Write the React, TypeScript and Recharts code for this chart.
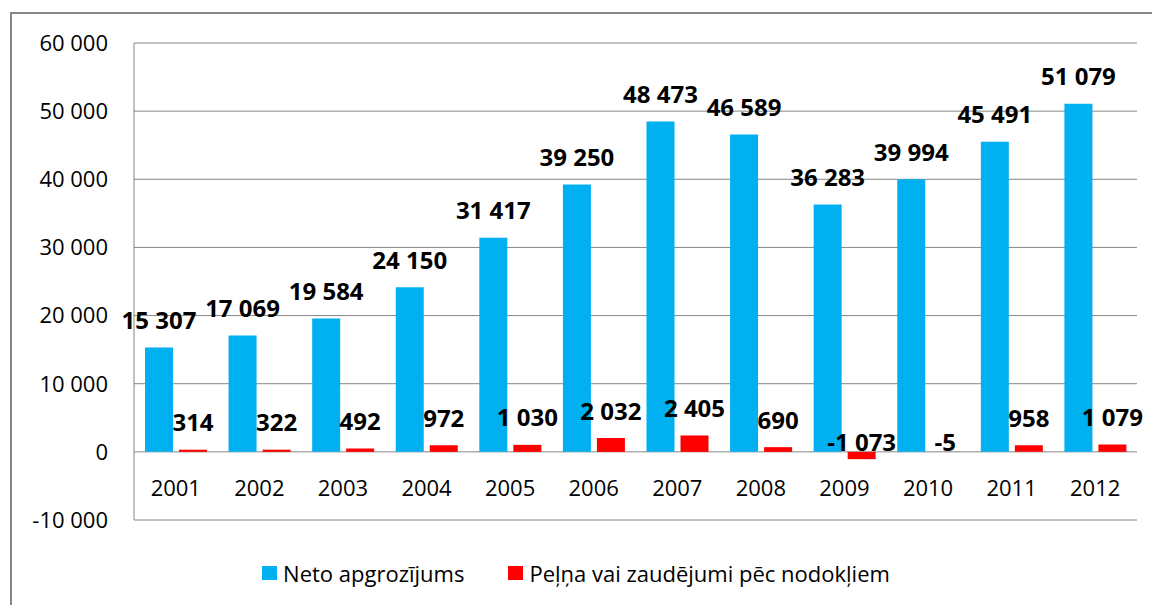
import {
  BarChart,
  Bar,
  XAxis,
  YAxis,
  CartesianGrid,
  Legend,
  LabelList,
} from "recharts";

const years = ["2001", "2002", "2003", "2004", "2005", "2006", "2007", "2008", "2009", "2010", "2011", "2012"];
const netoApgrozijums = [15307, 17069, 19584, 24150, 31417, 39250, 48473, 46589, 36283, 39994, 45491, 51079];
const pelna = [314, 322, 492, 972, 1030, 2032, 2405, 690, -1073, -5, 958, 1079];
const yTicks = [-10000, 0, 10000, 20000, 30000, 40000, 50000, 60000];

const seriesNames = {
  neto: "Neto apgrozījums",
  pelna: "Peļņa vai zaudējumi pēc nodokļiem",
};

const data = years.map((year, i) => ({
  year,
  neto: netoApgrozijums[i],
  pelna: pelna[i],
}));

const BLUE = "#00B0F0";
const RED = "#FF0000";
const GRID = "#868686";
const FONT = "'Open Sans', sans-serif";

const fmt = (n: number) => {
  const s = Math.abs(n).toString().replace(/\B(?=(\d{3})+(?!\d))/g, " ");
  return n < 0 ? "-" + s : s;
};

function ValueLabel(props: any) {
  const { x, y, width, height, value } = props;
  const top = Math.min(y, y + height);
  const cy = value < 0 ? top - 10 : top - 28;
  return (
    <text
      x={x + width / 2}
      y={cy}
      textAnchor="middle"
      dominantBaseline="central"
      fontFamily={FONT}
      fontWeight="bold"
      fontSize={24}
      fill="#000"
    >
      {fmt(value)}
    </text>
  );
}

function YearTick(props: any) {
  const { x, y, payload } = props;
  return (
    <text
      x={x}
      y={y - 33}
      textAnchor="middle"
      dominantBaseline="central"
      fontFamily={FONT}
      fontSize={22}
      fill="#000"
    >
      {payload.value}
    </text>
  );
}

function LegendBox() {
  const item = (color: string, label: string) => (
    <div style={{ display: "flex", alignItems: "center" }}>
      <div style={{ width: 15, height: 14, background: color, marginRight: 6 }} />
      <span>{label}</span>
    </div>
  );
  return (
    <div
      style={{
        display: "flex",
        justifyContent: "center",
        gap: 44,
        fontFamily: FONT,
        fontSize: 22,
        color: "#000",
        paddingLeft: 0,
      }}
    >
      {item(BLUE, seriesNames.neto)}
      {item(RED, seriesNames.pelna)}
    </div>
  );
}

export default function App() {
  return (
    <div
      style={{
        position: "fixed",
        left: 0,
        top: 0,
        width: 1152,
        height: 605,
        overflow: "hidden",
        background: "#fff",
      }}
    >
      <div
        style={{
          position: "absolute",
          left: 10,
          top: 12,
          width: 1160,
          height: 620,
          border: `2px solid ${GRID}`,
        }}
      />
      <div style={{ position: "absolute", left: 0, top: 0 }}>
        <BarChart
          width={1152}
          height={605}
          data={data}
          margin={{ top: 43, right: 15, bottom: 55, left: 0 }}
          barSize={28}
          barGap={6}
        >
          <CartesianGrid vertical={false} stroke={GRID} strokeWidth={1} />
          <XAxis
            dataKey="year"
            axisLine={false}
            tickLine={false}
            tickSize={0}
            tickMargin={0}
            height={30}
            interval={0}
            tick={<YearTick />}
          />
          <YAxis
            width={134}
            domain={[-10000, 60000]}
            ticks={yTicks}
            interval={0}
            tickFormatter={fmt}
            axisLine={{ stroke: GRID, strokeWidth: 1 }}
            tickLine={false}
            tickSize={0}
            tickMargin={26}
            tick={{ fontFamily: FONT, fontSize: 22, fill: "#000" }}
          />
          <Legend
            layout="horizontal"
            verticalAlign="middle"
            align="center"
            wrapperStyle={{ top: 558, left: 0, width: 1152 }}
            content={() => <LegendBox />}
          />
          <Bar dataKey="neto" name={seriesNames.neto} fill={BLUE} isAnimationActive={false}>
            <LabelList dataKey="neto" content={<ValueLabel />} />
          </Bar>
          <Bar dataKey="pelna" name={seriesNames.pelna} fill={RED} isAnimationActive={false}>
            <LabelList dataKey="pelna" content={<ValueLabel />} />
          </Bar>
        </BarChart>
      </div>
    </div>
  );
}
